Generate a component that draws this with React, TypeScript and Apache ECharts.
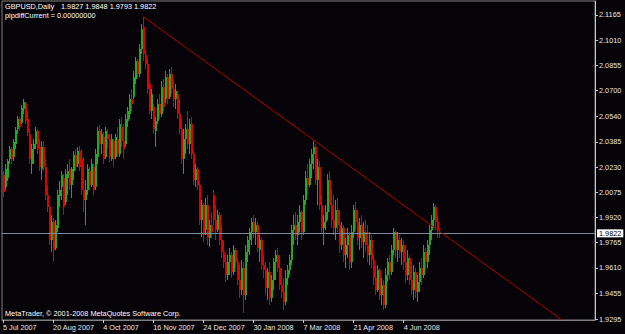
import React, { useEffect, useRef } from 'react';
import * as echarts from 'echarts';

const symbolName = 'GBPUSD,Daily';
const indicatorText = 'pipdiffCurrent = 0.00000000';
const copyright = 'MetaTrader, \u00a9 2001-2008 MetaQuotes Software Corp.';
const dateLabels = ['5 Jul 2007', '20 Aug 2007', '4 Oct 2007', '16 Nov 2007', '24 Dec 2007', '30 Jan 2008', '7 Mar 2008', '21 Apr 2008', '4 Jun 2008'];
const barsPerLabel = 25;
const totalSlots = 296;
const priceTicks = [2.1165, 2.101, 2.0855, 2.07, 2.054, 2.0385, 2.023, 2.0075, 1.992, 1.9765, 1.961, 1.9455, 1.9295];
const priceMin = 1.9289;
const priceMax = 2.1251;
// [open, close, low, high]
const ohlc: number[][] = [
  [2.0178, 2.0079, 2.0048, 2.0203], [2.0104, 2.0215, 2.0091, 2.0246], [2.0165, 2.0265, 2.0141, 2.0277], [2.0277, 2.0338, 2.0246, 2.0357],
  [2.0338, 2.0277, 2.0246, 2.0351], [2.0289, 2.0381, 2.0265, 2.04], [2.0369, 2.0456, 2.0338, 2.0474], [2.0462, 2.0524, 2.0431, 2.0542],
  [2.0524, 2.0474, 2.045, 2.0536], [2.0499, 2.0591, 2.0493, 2.061], [2.0585, 2.0628, 2.0554, 2.0647], [2.0622, 2.0511, 2.0493, 2.0628],
  [2.0524, 2.0437, 2.0419, 2.0566], [2.0431, 2.0277, 2.0246, 2.0462], [2.0246, 2.0338, 2.0184, 2.0369], [2.0338, 2.0369, 2.0246, 2.04],
  [2.0369, 2.045, 2.0338, 2.0474], [2.045, 2.0338, 2.0307, 2.0462], [2.0351, 2.0227, 2.0203, 2.04], [2.0215, 2.0351, 2.0153, 2.0388],
  [2.0351, 2.0227, 2.0203, 2.0388], [2.0227, 2.006, 2.003, 2.0277], [2.006, 1.9981, 1.9956, 2.0122], [1.9981, 1.9783, 1.9752, 1.9999],
  [1.9783, 1.9894, 1.9709, 1.9937], [1.9894, 1.9721, 1.9647, 1.9918], [1.9734, 1.9875, 1.9721, 1.9906], [1.9857, 2.006, 1.9832, 2.0091],
  [2.0054, 2.0091, 1.9981, 2.0141], [2.0104, 2.0178, 2.003, 2.0203], [2.0165, 1.9981, 1.9937, 2.0184], [2.0017, 2.0184, 1.9999, 2.0215],
  [2.0165, 2.0203, 2.006, 2.0246], [2.0215, 2.0122, 2.0091, 2.0277], [2.0122, 2.0215, 2.0042, 2.0227], [2.0203, 2.0301, 2.0153, 2.0326],
  [2.0301, 2.0227, 2.0203, 2.0338], [2.0246, 2.0326, 2.0227, 2.0351], [2.0326, 2.0227, 2.0203, 2.0357], [2.0277, 2.0091, 2.006, 2.0338],
  [2.0091, 2.003, 1.9956, 2.0289], [2.003, 2.0091, 1.9875, 2.0153], [2.0091, 2.0215, 2.006, 2.0246], [2.0203, 2.0122, 2.0091, 2.0227],
  [2.0122, 2.0246, 2.0104, 2.0277], [2.0227, 2.0091, 2.006, 2.0246], [2.0104, 2.0307, 2.0091, 2.0338], [2.0289, 2.045, 2.0246, 2.0474],
  [2.045, 2.0369, 2.0338, 2.0487], [2.0369, 2.0431, 2.0307, 2.0462], [2.0412, 2.0277, 2.0246, 2.0443], [2.0289, 2.045, 2.0277, 2.0474],
  [2.0431, 2.04, 2.0338, 2.0462], [2.04, 2.0289, 2.0258, 2.0431], [2.0277, 2.04, 2.0265, 2.0431], [2.0388, 2.0277, 2.0227, 2.04],
  [2.0289, 2.0412, 2.0277, 2.0431], [2.04, 2.0307, 2.0289, 2.0474], [2.0307, 2.0493, 2.0289, 2.0524], [2.0474, 2.0388, 2.0351, 2.0536],
  [2.0388, 2.0338, 2.0277, 2.0493], [2.0369, 2.0524, 2.0351, 2.0554], [2.0511, 2.0573, 2.0474, 2.0598], [2.0554, 2.0647, 2.0524, 2.0678],
  [2.0647, 2.0616, 2.0573, 2.0708], [2.0659, 2.0782, 2.0647, 2.0819], [2.077, 2.0881, 2.0739, 2.0906], [2.0881, 2.0801, 2.077, 2.0894],
  [2.0801, 2.0955, 2.0782, 2.0986], [2.0955, 2.1079, 2.0924, 2.1109], [2.1091, 2.0924, 2.0881, 2.1155], [2.0918, 2.0863, 2.0832, 2.0943],
  [2.0863, 2.0708, 2.0678, 2.0894], [2.0739, 2.0573, 2.0554, 2.077], [2.0573, 2.0678, 2.0524, 2.0708], [2.0598, 2.0462, 2.0431, 2.0616],
  [2.045, 2.0511, 2.0351, 2.0536], [2.0511, 2.0616, 2.0493, 2.0647], [2.0616, 2.0554, 2.0524, 2.0678], [2.0554, 2.0721, 2.0536, 2.0758],
  [2.0721, 2.0598, 2.0573, 2.077], [2.0647, 2.0782, 2.0622, 2.0819], [2.0782, 2.0647, 2.0616, 2.0801], [2.0659, 2.0801, 2.0647, 2.0832],
  [2.0801, 2.0708, 2.0678, 2.0844], [2.0708, 2.0647, 2.0598, 2.077], [2.0647, 2.0696, 2.0585, 2.0739], [2.0678, 2.0554, 2.0524, 2.0696],
  [2.0554, 2.0462, 2.0431, 2.0647], [2.0462, 2.0277, 2.0246, 2.0524], [2.0277, 2.04, 2.0184, 2.0462], [2.04, 2.0462, 2.0307, 2.0493],
  [2.0462, 2.0369, 2.0338, 2.0573], [2.0369, 2.0493, 2.0307, 2.0524], [2.0493, 2.0307, 2.0277, 2.0536], [2.0307, 2.0153, 2.0122, 2.0338],
  [2.0153, 2.0215, 2.0104, 2.0246], [2.0215, 2.0122, 2.0091, 2.0227], [2.0122, 1.9906, 1.9875, 2.0141], [1.9906, 1.9999, 1.9801, 2.003],
  [1.9999, 1.9814, 1.9771, 2.0011], [1.9845, 1.9999, 1.9814, 2.0042], [1.9999, 1.9795, 1.9752, 2.006], [1.9795, 1.9875, 1.974, 1.9906],
  [1.9875, 1.9832, 1.9795, 1.9956], [2.006, 1.9906, 1.9875, 2.0091], [1.9906, 1.9845, 1.9783, 1.9999], [1.9845, 1.9937, 1.9832, 1.9968],
  [1.9937, 1.9783, 1.9752, 1.9956], [1.9783, 1.9709, 1.9672, 1.9875], [1.9709, 1.9647, 1.961, 1.9783], [1.9647, 1.9567, 1.9524, 1.969],
  [1.9567, 1.9647, 1.9536, 1.969], [1.9647, 1.969, 1.9567, 1.9734], [1.969, 1.9585, 1.9549, 1.9709], [1.9585, 1.9721, 1.9567, 1.9752],
  [1.9721, 1.9647, 1.961, 1.9734], [1.9647, 1.9536, 1.9505, 1.9672], [1.9536, 1.9474, 1.9425, 1.9628], [1.9474, 1.961, 1.9443, 1.966],
  [1.961, 1.9443, 1.9332, 1.9647], [1.9443, 1.9709, 1.9413, 1.9752], [1.9709, 1.9783, 1.9647, 1.9808], [1.9783, 1.9832, 1.969, 1.9857],
  [1.9832, 1.9894, 1.9752, 1.9918], [1.9894, 1.9832, 1.9795, 1.9937], [1.9832, 1.9875, 1.9752, 1.9918], [1.9875, 1.9734, 1.9709, 1.9894],
  [1.9721, 1.9783, 1.9647, 1.9814], [1.9783, 1.9628, 1.9598, 1.9795], [1.9628, 1.9598, 1.9549, 1.969], [1.9598, 1.9487, 1.9443, 1.9647],
  [1.9487, 1.9585, 1.9413, 1.961], [1.9585, 1.9425, 1.9382, 1.9647], [1.9425, 1.9536, 1.94, 1.9567], [1.9536, 1.9647, 1.9474, 1.9672],
  [1.9647, 1.969, 1.9536, 1.9721], [1.969, 1.961, 1.9585, 1.9734], [1.961, 1.9505, 1.9474, 1.969], [1.9505, 1.9462, 1.9425, 1.961],
  [1.9462, 1.94, 1.9351, 1.9548], [1.94, 1.9548, 1.9382, 1.9598], [1.9548, 1.9598, 1.9505, 1.9628], [1.9598, 1.966, 1.9567, 1.969],
  [1.966, 1.9845, 1.9628, 1.9875], [1.9845, 1.9875, 1.9752, 1.9937], [1.9875, 1.9814, 1.9783, 1.9956], [1.9814, 1.9894, 1.9752, 1.9937],
  [1.9894, 1.9956, 1.9832, 1.9999], [1.9956, 1.9832, 1.9783, 1.9968], [1.9832, 2.003, 1.9814, 2.006], [2.003, 2.0165, 1.9999, 2.0203],
  [2.0165, 2.0122, 2.006, 2.0246], [2.0122, 2.0246, 2.0104, 2.0277], [2.0246, 2.0307, 2.0165, 2.0338], [2.0307, 2.0351, 2.0215, 2.0388],
  [2.0351, 2.0153, 2.0122, 2.0369], [2.0153, 2.0227, 1.9999, 2.0277], [2.0227, 1.9999, 1.9968, 2.0265], [1.9999, 1.9857, 1.9826, 2.006],
  [1.9857, 1.9894, 1.9752, 1.9937], [1.9894, 1.9956, 1.9845, 1.9999], [1.9956, 2.0153, 1.9906, 2.0184], [2.0153, 1.9999, 1.9956, 2.0203],
  [1.9999, 1.9906, 1.9857, 2.0091], [1.9906, 1.9857, 1.9814, 2.006], [1.9857, 1.9968, 1.9783, 2.003], [1.9968, 1.9875, 1.9832, 2.0042],
  [1.9875, 1.9752, 1.9703, 1.9968], [1.9752, 1.9857, 1.9721, 1.9894], [1.9857, 1.969, 1.9647, 1.9875], [1.969, 1.9752, 1.961, 1.9795],
  [1.9752, 1.9814, 1.9672, 1.9857], [1.9814, 1.9647, 1.9598, 1.9832], [1.9647, 1.9832, 1.961, 1.9875], [1.9832, 1.9968, 1.9795, 1.9999],
  [1.9968, 1.9894, 1.9845, 2.0017], [1.9894, 1.9795, 1.9752, 1.9968], [1.9795, 1.9875, 1.9721, 1.9918], [1.9875, 1.9771, 1.9734, 1.9937],
  [1.9771, 1.9832, 1.9672, 1.9894], [1.9832, 1.9752, 1.9709, 1.9906], [1.9752, 1.969, 1.9647, 1.9875], [1.969, 1.9783, 1.9628, 1.9832],
  [1.9783, 1.966, 1.961, 1.9814], [1.966, 1.9548, 1.9505, 1.969], [1.9548, 1.9474, 1.9443, 1.9628], [1.9474, 1.9598, 1.9462, 1.9628],
  [1.9598, 1.9443, 1.9413, 1.961], [1.9443, 1.9505, 1.9382, 1.9548], [1.9505, 1.9382, 1.9351, 1.9536], [1.9382, 1.9567, 1.9363, 1.961],
  [1.9567, 1.9647, 1.9524, 1.9672], [1.9647, 1.9585, 1.9536, 1.969], [1.9585, 1.9721, 1.9567, 1.9752], [1.9721, 1.9832, 1.969, 1.9857],
  [1.9832, 1.9721, 1.9672, 1.9845], [1.9721, 1.9783, 1.9647, 1.9832], [1.9783, 1.9709, 1.9672, 1.9814], [1.9709, 1.9752, 1.9628, 1.9795],
  [1.9752, 1.9647, 1.9598, 1.9783], [1.9647, 1.9567, 1.9518, 1.9752], [1.9567, 1.9672, 1.9536, 1.9721], [1.9672, 1.9536, 1.9505, 1.969],
  [1.9536, 1.9474, 1.9443, 1.9647], [1.9474, 1.9585, 1.9413, 1.9628], [1.9585, 1.9462, 1.9425, 1.961], [1.9462, 1.9524, 1.94, 1.9567],
  [1.9524, 1.961, 1.9462, 1.9647], [1.961, 1.9567, 1.9505, 1.9672], [1.9567, 1.9709, 1.9549, 1.9752], [1.9709, 1.9647, 1.9598, 1.9734],
  [1.9647, 1.9752, 1.961, 1.9783], [1.9752, 1.9845, 1.969, 1.9875], [1.9845, 1.9906, 1.9783, 1.9937], [1.9906, 1.9981, 1.9857, 2.0011],
  [1.9981, 1.9894, 1.9845, 1.9999], [1.9894, 1.9845, 1.9795, 1.9937], [1.9827, 1.9822, 1.9793, 1.9848],
];
// trendline drawn from the November 2007 high: [bar index, price]
const trendline: number[][] = [[70, 2.1155], [279, 1.9289]];

const FONT = 'Liberation Sans, Arial, sans-serif';
const UP = '#22a822';
const DOWN = '#e00000';

export default function App() {
  const ref = useRef<HTMLDivElement>(null);
  useEffect(() => {
    if (!ref.current) return;
    const chart = echarts.init(ref.current, undefined, { renderer: 'svg' });
    const categories = Array.from({ length: totalSlots }, (_, i) =>
      i % barsPerLabel === 0 && i / barsPerLabel < dateLabels.length ? dateLabels[i / barsPerLabel] : ''
    );
    const last = ohlc[ohlc.length - 1];
    const lastClose = last[1];
    const headerNums = [last[0], last[3], last[2], last[1]].map((v) => v.toFixed(4)).join(' ');
    const showIdx = (_i: number, v: string) => v !== '';
    const barData = ohlc.map((d, i) => [i, d[0], d[1], d[2], d[3]]);
    const renderCandle = (_params: any, api: any) => {
      const i = api.value(0);
      const o = api.value(1);
      const c = api.value(2);
      const l = api.value(3);
      const h = api.value(4);
      const pO = api.coord([i, o]);
      const pC = api.coord([i, c]);
      const pL = api.coord([i, l]);
      const pH = api.coord([i, h]);
      const cx = Math.floor(pO[0]);
      const col = c >= o ? UP : DOWN;
      const top = Math.round(Math.min(pO[1], pC[1]));
      const bot = Math.round(Math.max(pO[1], pC[1]));
      const bh = Math.max(1, bot - top);
      return {
        type: 'group',
        children: [
          {
            type: 'rect',
            shape: { x: cx, y: Math.round(pH[1]), width: 1, height: Math.max(1, Math.round(pL[1]) - Math.round(pH[1])) },
            style: { fill: col },
          },
          { type: 'rect', shape: { x: cx, y: top, width: 2, height: bh }, style: { fill: col } },
        ],
      };
    };
    chart.setOption({
      animation: false,
      backgroundColor: '#050308',
      grid: { left: 2, top: 1, right: 30, bottom: 14, show: true, borderColor: '#808080', borderWidth: 1, backgroundColor: 'transparent' },
      xAxis: {
        type: 'category',
        data: categories,
        boundaryGap: true,
        axisLine: { show: true, lineStyle: { color: '#808080', width: 1 } },
        axisTick: { show: true, interval: showIdx, alignWithLabel: true, length: 3, lineStyle: { color: '#d0d0d0' } },
        axisLabel: { show: true, interval: showIdx, color: '#e8e8e8', fontSize: 7.3, fontFamily: FONT, align: 'left', margin: 4 },
        splitLine: { show: false },
      },
      yAxis: {
        type: 'value',
        position: 'right',
        min: priceMin,
        max: priceMax,
        scale: true,
        axisLine: { show: true, lineStyle: { color: '#c8c8c8', width: 1 } },
        axisTick: { show: true, length: 3, customValues: priceTicks, lineStyle: { color: '#c8c8c8' } },
        axisLabel: {
          show: true,
          customValues: priceTicks,
          formatter: (v: number) => v.toFixed(4),
          color: '#e8e8e8',
          fontSize: 7.3,
          fontFamily: FONT,
          margin: 4,
        },
        splitLine: { show: false },
      },
      series: [
        {
          type: 'custom',
          data: barData,
          encode: { x: 0, y: [1, 2, 3, 4] },
          renderItem: renderCandle,
          silent: true,
          clip: true,
        },
        {
          type: 'candlestick',
          data: [],
          silent: true,
          markLine: {
            silent: true,
            symbol: ['none', 'none'],
            precision: 4,
            data: [
              {
                yAxis: lastClose,
                lineStyle: { color: '#7d8a9c', width: 1, type: 'solid' },
                label: {
                  show: true,
                  position: 'end',
                  distance: 2,
                  formatter: () => lastClose.toFixed(4),
                  backgroundColor: '#ffffff',
                  color: '#000000',
                  fontSize: 7.3,
                  lineHeight: 8,
                  fontFamily: FONT,
                  padding: [0, 2, 0, 2],
                },
              },
              [
                { coord: trendline[0], lineStyle: { color: '#b80000', width: 1, type: 'solid' }, label: { show: false } },
                { coord: trendline[1] },
              ],
            ],
          },
        },
      ],
      graphic: [
        { type: 'text', left: 5, top: 3, style: { text: symbolName, fill: '#ffffff', fontSize: 7.3, fontFamily: FONT } },
        { type: 'text', left: 61, top: 3, style: { text: headerNums, fill: '#ffffff', fontSize: 7.3, fontFamily: FONT } },
        { type: 'text', left: 5, top: 12, style: { text: indicatorText, fill: '#ffffff', fontSize: 7.3, fontFamily: FONT } },
        { type: 'text', left: 5, top: 310, style: { text: copyright, fill: '#ffffff', fontSize: 7.3, fontFamily: FONT } },
      ],
    });
    return () => chart.dispose();
  }, []);
  return <div ref={ref} style={{ position: 'fixed', left: 0, top: 0, width: 625, height: 334 }} />;
}
